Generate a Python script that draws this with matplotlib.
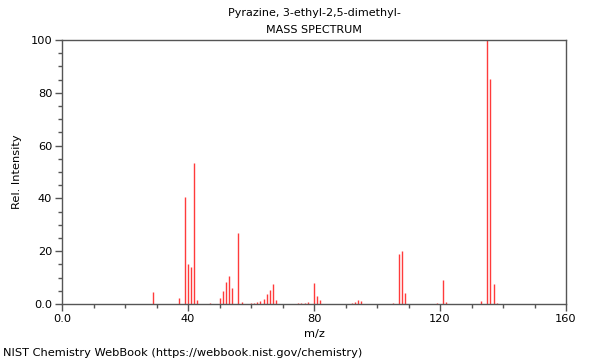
import matplotlib
matplotlib.use("Agg")
import matplotlib.pyplot as plt
from matplotlib.ticker import MultipleLocator, FixedLocator, FixedFormatter

mz = [29, 37, 39, 40, 41, 42, 43, 47, 50, 51, 52, 53, 54, 56, 57, 60, 61, 62, 63, 64,
      65, 66, 67, 68, 75, 76, 77, 78, 80, 81, 82, 92, 93, 94, 95, 105, 107, 108, 109,
      119, 121, 122, 133, 135, 136, 137, 138]
intensity = [4.7, 2.2, 40.4, 15.1, 13.9, 53.3, 1.5, 0.3, 2.2, 5.0, 8.5, 10.5, 6.1, 26.8, 0.9,
             0.3, 0.4, 0.8, 1.3, 1.8, 3.7, 5.2, 7.6, 1.5, 0.3, 0.5, 0.3, 0.8, 7.8, 2.9, 1.4,
             0.3, 0.8, 1.6, 1.0, 0.3, 18.9, 20.1, 4.0, 0.3, 9.1, 0.8, 1.3, 100.0, 85.4, 7.7, 0.4]

title_line1 = "Pyrazine, 3-ethyl-2,5-dimethyl-"
title_line2 = "MASS SPECTRUM"
xlabel = "m/z"
ylabel = "Rel. Intensity"
footer = "NIST Chemistry WebBook (https://webbook.nist.gov/chemistry)"
xticks = [0, 40, 80, 120, 160]
xticklabels = ["0.0", "40", "80", "120", "160"]
yticks = [0, 20, 40, 60, 80, 100]
yticklabels = ["0.0", "20", "40", "60", "80", "100"]

plt.rcParams['font.family'] = ['DejaVu Sans']
fig = plt.figure(figsize=(6, 3.6), dpi=100)
ax = fig.add_axes([62/600, 1 - 304/360, (566 - 62)/600, (304 - 40)/360])

ax.vlines(mz, 0, intensity, colors='#ff3b3b', linewidth=1.0)
ax.set_xlim(0, 160)
ax.set_ylim(0, 100)

ax.xaxis.set_major_locator(FixedLocator(xticks))
ax.xaxis.set_major_formatter(FixedFormatter(xticklabels))
ax.xaxis.set_minor_locator(MultipleLocator(10))
ax.yaxis.set_major_locator(FixedLocator(yticks))
ax.yaxis.set_major_formatter(FixedFormatter(yticklabels))
ax.yaxis.set_minor_locator(MultipleLocator(5))

spine_color = '#555555'
for s in ax.spines.values():
    s.set_color(spine_color)
    s.set_linewidth(1.0)
ax.tick_params(axis='both', which='major', direction='out', length=5, width=1,
               color=spine_color, labelsize=8.2, pad=2)
ax.tick_params(axis='both', which='minor', direction='out', length=3, width=1,
               color=spine_color)

ax.set_xlabel(xlabel, fontsize=8.2, labelpad=4)
ax.set_ylabel(ylabel, fontsize=8.2, labelpad=6)

fig.text(314/600, 1 - 13/360, title_line1, ha='center', va='center', fontsize=8)
fig.text(314/600, 1 - 30/360, title_line2, ha='center', va='center', fontsize=8)
fig.text(3/600, 1 - 353/360, footer, ha='left', va='center', fontsize=8.2)

fig.savefig("out.png", dpi=100)
